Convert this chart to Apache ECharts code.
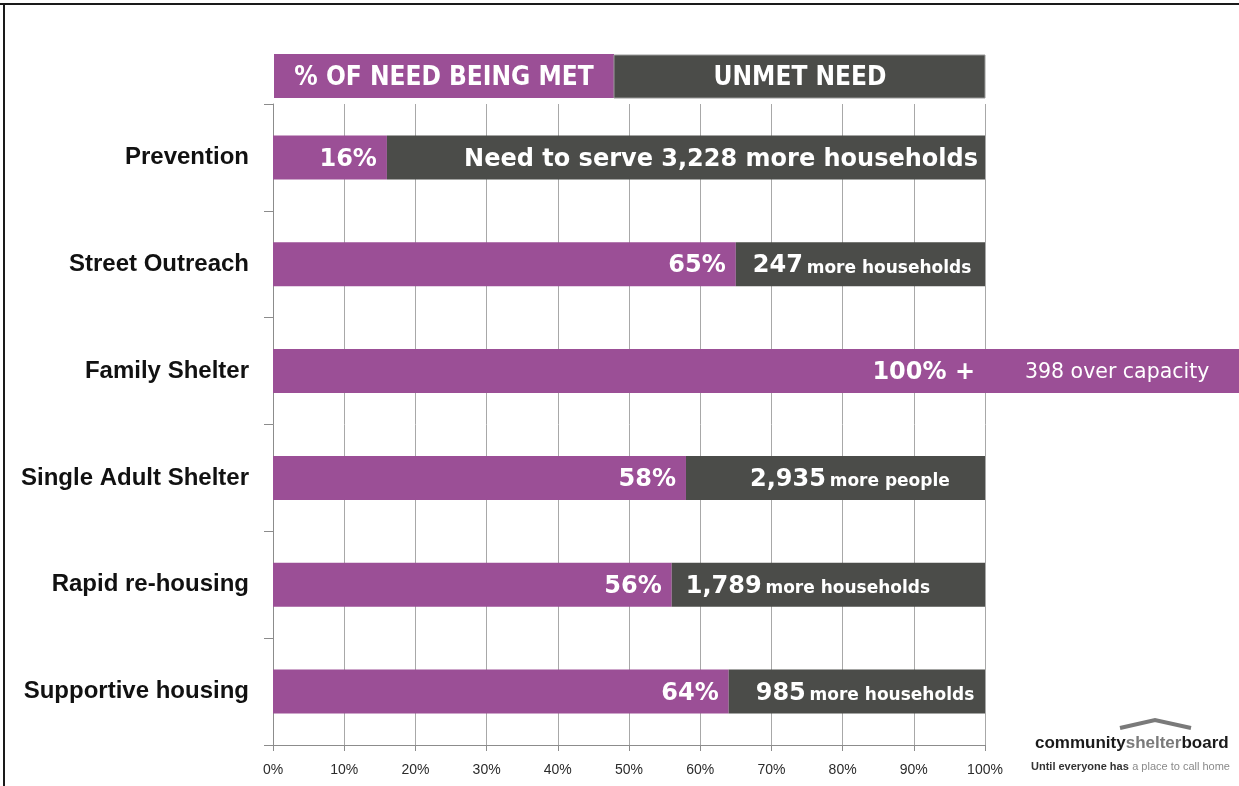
<!DOCTYPE html>
<html>
<head>
<meta charset="utf-8">
<script src="https://cdn.jsdelivr.net/npm/echarts@6/dist/echarts.min.js"></script>
<style>
  html, body { margin: 0; padding: 0; background: #ffffff; }
  #chart { width: 1239px; height: 786px; }
</style>
</head>
<body>
<div id="chart"></div>
<script>
// Programs, top to bottom
const categories = ['Prevention', 'Street Outreach', 'Family Shelter', 'Single Adult Shelter', 'Rapid re-housing', 'Supportive housing'];
// Share of need currently met (%)
const metPct = [16, 65, 100, 58, 56, 64];
// Share of need still unmet (%)
const unmetPct = [84, 35, 0, 42, 44, 36];
// Demand beyond 100% capacity (%)
const overPct = [0, 0, 36, 0, 0, 0];
// Unmet counts and their units
const unmetCount = [3228, 247, null, 2935, 1789, 985];
const unmetUnit = ['more households', 'more households', '', 'more people', 'more households', 'more households'];
// Count above capacity
const overCount = [null, null, 398, null, null, null];
const xTicks = [0, 10, 20, 30, 40, 50, 60, 70, 80, 90, 100];

const PURPLE = '#9b4f96';
const DARK = '#4b4c49';
const BAR_FONT = 'DejaVu Sans';

const fmt = n => n.toLocaleString('en-US');

// placement of the unmet text inside each dark segment
const unmetLabelPlace = [
  { position: 'insideRight', distance: 7 },
  { position: 'insideLeft', distance: 17 },
  { position: 'insideLeft', distance: 17 },
  { position: 'insideLeft', distance: 64 },
  { position: 'insideLeft', distance: 14 },
  { position: 'insideLeft', distance: 27 }
];

const metData = metPct.map((v, i) => ({
  value: v,
  label: { formatter: overPct[i] > 0 ? v + '% +' : v + '%' }
}));

const unmetData = unmetPct.map((v, i) => {
  const c = unmetCount[i];
  let text = '';
  if (c != null && v > 0) {
    text = i === 0
      ? '{p|Need to serve ' + fmt(c) + ' ' + unmetUnit[i] + '}'
      : '{n|' + fmt(c) + '} {u|' + unmetUnit[i] + '}';
  }
  return {
    value: v,
    label: Object.assign({ show: text !== '', formatter: text }, unmetLabelPlace[i])
  };
});

const overData = overPct.map((v, i) => ({
  value: v,
  label: { show: v > 0, formatter: overCount[i] != null ? fmt(overCount[i]) + ' over capacity' : '' }
}));

const chart = echarts.init(document.getElementById('chart'), null, { renderer: 'canvas' });

chart.setOption({
  animation: false,
  backgroundColor: '#ffffff',
  grid: { left: 273, right: 254, top: 104, bottom: 41, containLabel: false },
  xAxis: {
    type: 'value',
    min: xTicks[0],
    max: xTicks[xTicks.length - 1],
    interval: 10,
    axisLine: { show: true, lineStyle: { color: '#8c8c8c', width: 1 } },
    axisTick: { show: true, length: 6, lineStyle: { color: '#8c8c8c' } },
    splitLine: { show: true, lineStyle: { color: '#a8a8a8', width: 1 } },
    axisLabel: {
      formatter: '{value}%',
      fontFamily: 'Liberation Sans',
      fontSize: 14,
      color: '#2b2b2b',
      margin: 18
    }
  },
  yAxis: {
    type: 'category',
    data: categories,
    inverse: true,
    axisLine: { show: true, lineStyle: { color: '#8c8c8c', width: 1 } },
    axisTick: { show: true, length: 9, lineStyle: { color: '#8c8c8c' } },
    axisLabel: {
      fontFamily: 'Liberation Sans',
      fontWeight: 'bold',
      fontSize: 24,
      color: '#111111',
      margin: 24,
      padding: [4, 0, 0, 0]
    }
  },
  series: [
    {
      name: 'Met',
      type: 'bar',
      stack: 'need',
      barWidth: 44,
      data: metData,
      itemStyle: { color: PURPLE },
      label: {
        show: true,
        position: 'insideRight',
        distance: 10,
        offset: [0, 2],
        color: '#ffffff',
        fontFamily: BAR_FONT,
        fontWeight: 'bold',
        fontSize: 24
      }
    },
    {
      name: 'Unmet',
      type: 'bar',
      stack: 'need',
      barWidth: 44,
      data: unmetData,
      itemStyle: { color: DARK },
      label: {
        show: true,
        offset: [0, 2],
        color: '#ffffff',
        fontFamily: BAR_FONT,
        rich: {
          p: { fontFamily: BAR_FONT, fontWeight: 'bold', fontSize: 24, color: '#ffffff' },
          n: { fontFamily: BAR_FONT, fontWeight: 'bold', fontSize: 24, color: '#ffffff' },
          u: { fontFamily: BAR_FONT, fontWeight: 'bold', fontSize: 17, color: '#ffffff', padding: [4, 0, 0, 0] }
        }
      }
    },
    {
      name: 'Over capacity',
      type: 'bar',
      stack: 'need',
      barWidth: 44,
      clip: false,
      data: overData,
      itemStyle: { color: PURPLE },
      label: {
        show: true,
        position: 'inside',
        offset: [4, 2],
        color: '#ffffff',
        fontFamily: BAR_FONT,
        fontSize: 20.5
      }
    }
  ],
  graphic: [
    // frame
    { type: 'line', shape: { x1: 0, y1: 4, x2: 1239, y2: 4 }, style: { stroke: '#1a1a1a', lineWidth: 2 } },
    { type: 'line', shape: { x1: 4, y1: 4, x2: 4, y2: 786 }, style: { stroke: '#1a1a1a', lineWidth: 2 } },
    // header key
    { type: 'rect', shape: { x: 274, y: 54, width: 340, height: 44 }, style: { fill: PURPLE } },
    { type: 'rect', shape: { x: 614, y: 55, width: 371, height: 43 }, style: { fill: DARK, stroke: '#9a9a9a', lineWidth: 1 } },
    {
      type: 'text', x: 444, y: 78,
      style: {
        text: '% OF NEED BEING MET', fill: '#ffffff',
        font: 'bold 26px "DejaVu Sans Condensed", sans-serif',
        align: 'center', verticalAlign: 'middle'
      }
    },
    {
      type: 'text', x: 800, y: 78,
      style: {
        text: 'UNMET NEED', fill: '#ffffff',
        font: 'bold 26px "DejaVu Sans Condensed", sans-serif',
        align: 'center', verticalAlign: 'middle'
      }
    },
    // logo
    {
      type: 'polyline',
      shape: { points: [[1120, 728], [1155, 720], [1191, 728]] },
      style: { stroke: '#7a7a7a', lineWidth: 4, fill: null }
    },
    {
      type: 'text', x: 1035, y: 743,
      style: {
        text: '{a|community}{b|shelter}{a|board}',
        verticalAlign: 'middle',
        rich: {
          a: { font: 'bold 17px "Liberation Sans", sans-serif', fill: '#1a1a1a' },
          b: { font: 'bold 17px "Liberation Sans", sans-serif', fill: '#7a7a7a' }
        }
      }
    },
    {
      type: 'text', x: 1031, y: 767,
      style: {
        text: '{a|Until everyone has} {b|a place to call home}',
        verticalAlign: 'middle',
        rich: {
          a: { font: 'bold 11px "Liberation Sans", sans-serif', fill: '#333333' },
          b: { font: '11px "Liberation Sans", sans-serif', fill: '#8a8a8a' }
        }
      }
    }
  ]
});
</script>
</body>
</html>
